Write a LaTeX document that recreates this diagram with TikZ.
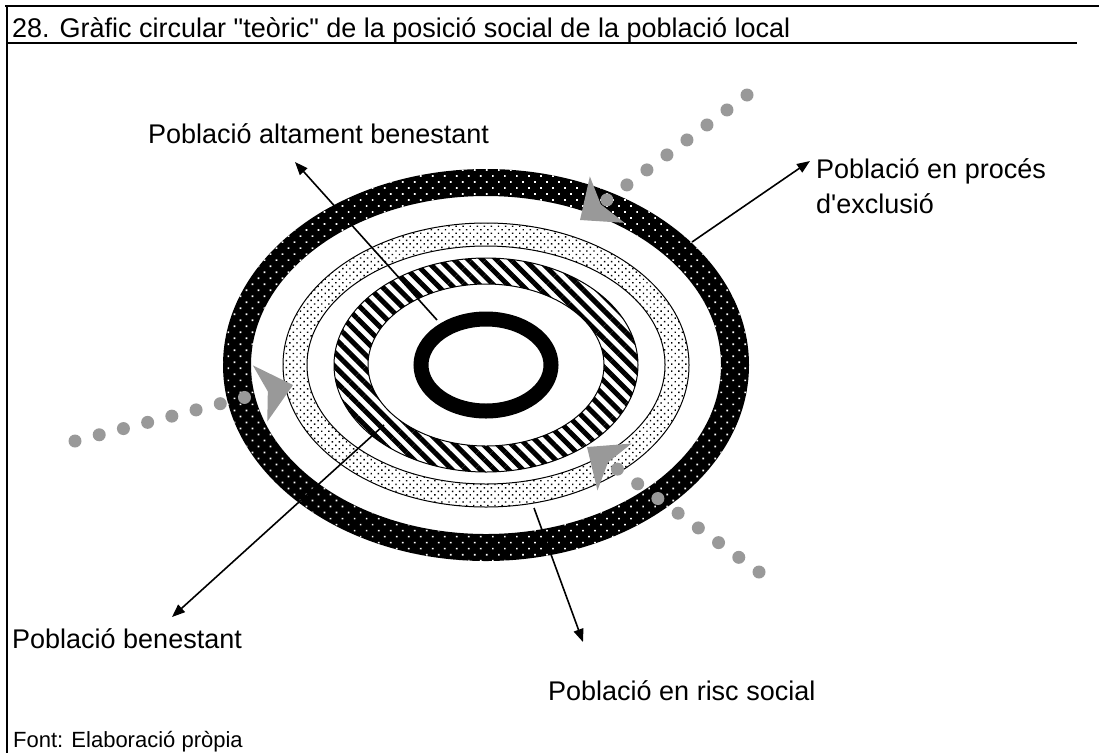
\documentclass[tikz,border=0pt]{standalone}
\usepackage{fontspec}
\setmainfont{Liberation Sans}
\usetikzlibrary{arrows.meta,patterns.meta}
\definecolor{dotgrey}{HTML}{999999}

\begin{document}
\begin{tikzpicture}[x=1pt,y=-1pt,
        lbl/.style={anchor=base west, inner sep=0pt,
                        font=\fontsize{27}{35}\selectfont},
        pnt/.style={draw, line width=1.6pt, -{Triangle[length=13pt,width=10pt]}},
        entry/.style={draw=dotgrey, line width=13pt, line cap=round,
                        dash pattern=on 0pt off 25pt,
                        -{Stealth[length=34pt,width=58pt,inset=8pt,line width=0pt]}}]
\useasboundingbox (0,0) rectangle (1099,753);
% frame and title
\draw[line width=2.5pt] (5,6) -- (1099,6) (7,5) -- (7,753);
\draw[line width=2pt] (7,43) -- (1077,43);
\node[lbl] (title) at (12,37) {28. Gràfic circular \textquotedbl teòric\textquotedbl{} de la posició social de la població local};
\node[anchor=base west, inner sep=0pt, font=\fontsize{22}{26}\selectfont] (source) at (13,747) {Font: Elaboració pròpia};

% rings
\coordinate (c) at (486,365);
\fill[black, even odd rule] (c) ellipse [x radius=263, y radius=196]
    (c) ellipse [x radius=235, y radius=169];
\fill[pattern={Dots[distance=8.5pt,radius=1.2pt,angle=45]}, pattern color=white, even odd rule]
    (c) ellipse [x radius=263, y radius=196] (c) ellipse [x radius=235, y radius=169];
\draw[line width=1pt, pattern={Dots[distance=5pt,radius=1pt,angle=45]}, even odd rule]
    (c) ellipse [x radius=203, y radius=142] (c) ellipse [x radius=179, y radius=119];
\draw[line width=1pt, pattern={Lines[angle=-45,distance=10pt,line width=5pt]}, even odd rule]
    (c) ellipse [x radius=152, y radius=107] (c) ellipse [x radius=118, y radius=81];
\draw[line width=15pt] (c) ellipse [x radius=65, y radius=46];

% labels
\node[lbl] (altament) at (148,143) {Població altament benestant};
\node[lbl] (exclusio) at (816,178) {Població en procés};
\node[lbl] (exclusio2) at (816,213) {d\textquotesingle exclusió};
\node[lbl] (benestant) at (12,648) {Població benestant};
\node[lbl] (risc) at (548,700) {Població en risc social};

% pointers
\coordinate (p1s) at (437,320); \coordinate (p1t) at (295,162);
\coordinate (p2s) at (692,242); \coordinate (p2t) at (810,161);
\coordinate (p3s) at (384,425); \coordinate (p3t) at (172,617);
\coordinate (p4s) at (534,508); \coordinate (p4t) at (583,642);
\foreach \i in {1,...,4}
    \draw[pnt] (p\i s) -- (p\i t);

% grey entries
\coordinate (in1s) at (747,95);  \coordinate (in1t) at (580,220);
\coordinate (in2s) at (75,441);  \coordinate (in2t) at (293,385);
\coordinate (in3s) at (759,572); \coordinate (in3t) at (587,447);
\foreach \i in {1,2,3}
    \draw[entry] (in\i s) -- (in\i t);
\end{tikzpicture}
\end{document}
